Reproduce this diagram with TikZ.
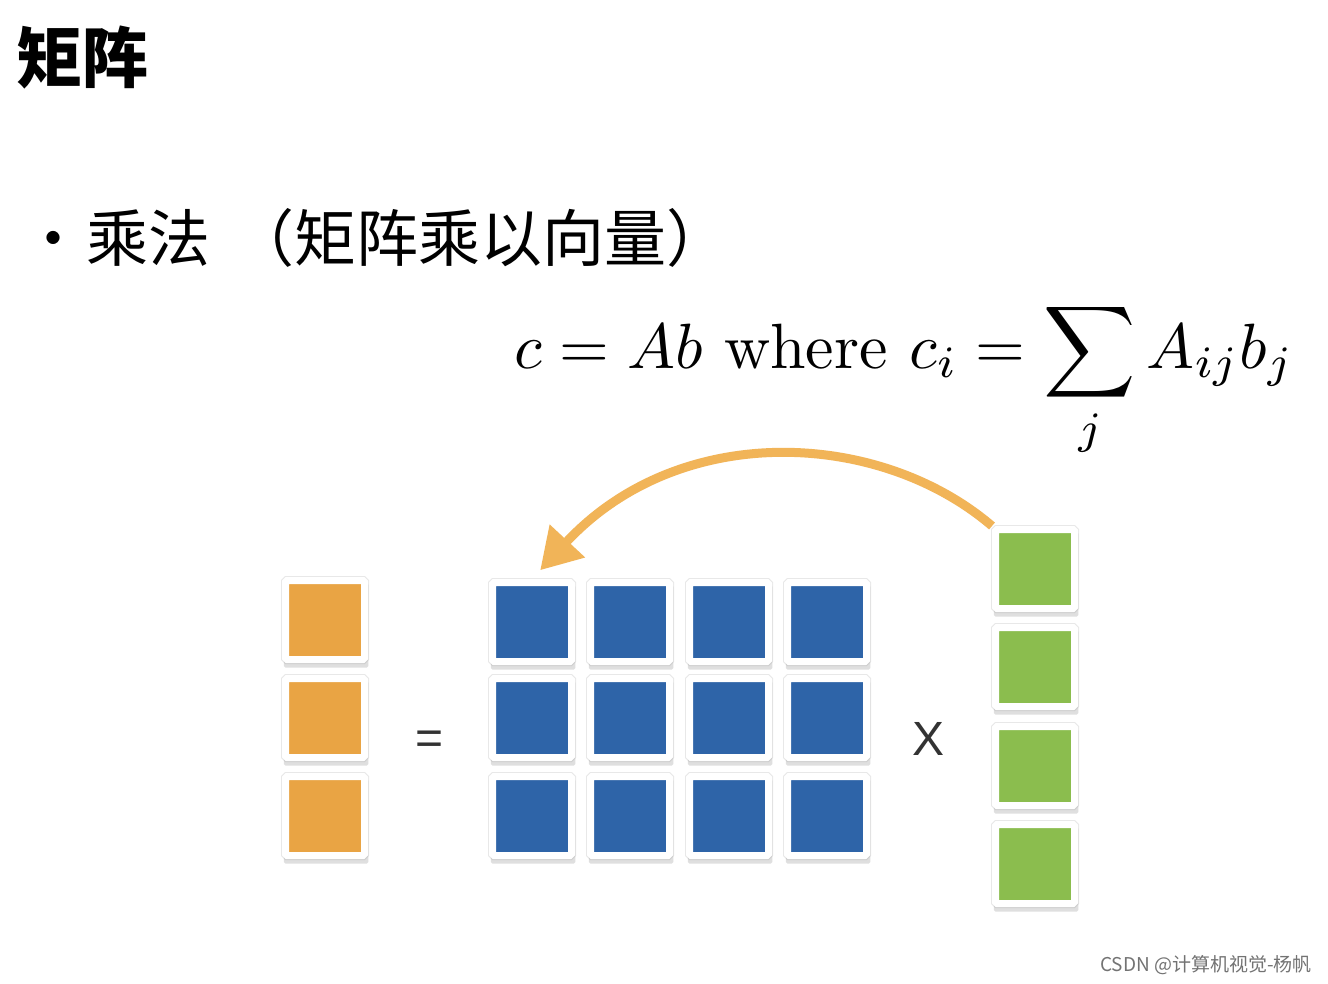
\documentclass[tikz,border=0pt]{standalone}
\usepackage{fontspec}
\usepackage{amsmath}
\newfontfamily\cjk{Noto Sans CJK SC}
\newfontfamily\sans{Liberation Sans}
\usetikzlibrary{arrows.meta,shadows}
\definecolor{tileorange}{RGB}{233,164,68}
\definecolor{tileblue}{RGB}{46,100,168}
\definecolor{tilegreen}{RGB}{139,189,78}
\definecolor{arroworange}{RGB}{241,180,88}
\tikzset{> = {Triangle[length=40pt,width=46pt]},
	tile/.style={draw=white, line width=7pt, fill=#1, minimum size=79pt, inner sep=0pt,
		rounded corners=1.5pt, preaction={draw=black!9, line width=9pt},
		drop shadow={opacity=.25, shadow scale=1.07, shadow xshift=1pt, shadow yshift=-5pt}},
	sign/.style={font=\sans\fontsize{48}{50}\selectfont, text=black!80, anchor=base, inner sep=0pt}}

\begin{document}
\begin{tikzpicture}[x=1pt,y=-1pt]
	\fill[white] (0,0) rectangle (1328,983);
	\useasboundingbox (0,0) rectangle (1328,983);
	\node[font=\cjk\bfseries\fontsize{66}{70}\selectfont, anchor=west, inner sep=0pt] (title) at (16,58) {矩阵};
	\node[font=\cjk\fontsize{62}{66}\selectfont, anchor=west, inner sep=0pt] (item) at (22,238) {•\hspace{2pt}乘法\hspace{22pt}（矩阵乘以向量）};
	\node[anchor=base west, scale=6.4, inner sep=0pt] (formula) at (513,368) {$\displaystyle c = Ab\text{ where } c_i = \sum_j A_{ij}b_j$};
	\foreach \row/\y in {1/620,2/718,3/816}
		\node[tile=tileorange] (o\row) at (325,\y) {};
	\foreach \col/\x in {1/532,2/630,3/729,4/827}
		\foreach \row/\y in {1/622,2/718,3/816}
			\node[tile=tileblue] (m\row\col) at (\x,\y) {};
	\foreach \row/\y in {1/569,2/667,3/766,4/864}
		\node[tile=tilegreen] (g\row) at (1035,\y) {};
	\node[sign] (equals) at (430,754) {=};
	\node[sign] (times) at (928,755) {X};
	\draw[->, arroworange, line width=9pt, shorten >=12pt] (g1.north west) .. controls (880,430) and (680,420) .. (m11.north);
	\node[font=\cjk\fontsize{19}{20}\selectfont, text=black!55, anchor=east, inner sep=0pt] (mark) at (1312,965) {CSDN @计算机视觉-杨帆};
\end{tikzpicture}
\end{document}
